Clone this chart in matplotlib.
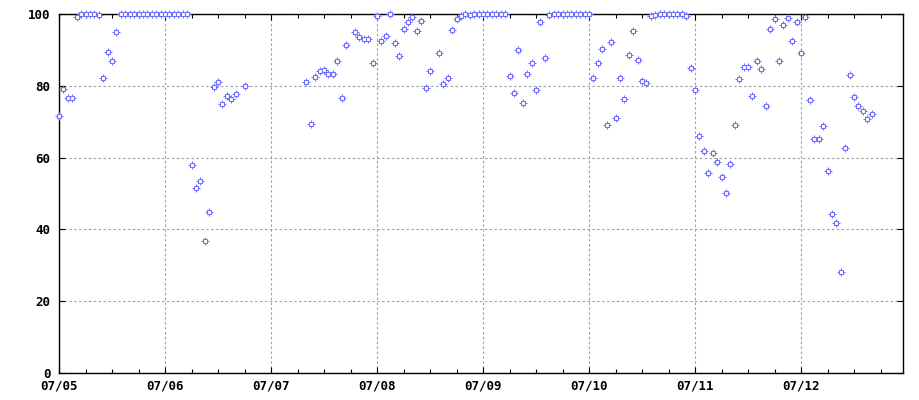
import numpy as np
import matplotlib
matplotlib.use('Agg')
import matplotlib.pyplot as plt
from matplotlib.ticker import MultipleLocator, FixedLocator

# hours since 07/05 00:00
hours = [0, 1, 2, 3, 4, 5, 6, 7, 8, 9, 10, 11, 12, 13,
         14, 15, 16, 17, 18, 19, 20, 21, 22, 23, 24, 25, 26, 27, 28, 29,
         30, 31, 32, 33, 34, 35, 36, 37, 38, 39, 40, 42,
         56, 57, 58, 59, 60, 61, 62, 63, 64, 65, 67, 68, 69, 70, 71,
         72, 73, 74, 75, 76, 77, 78, 79, 80, 81, 82, 83, 84, 86, 87, 88, 89, 90, 91,
         92, 93, 94, 95, 96, 97, 98, 99, 100, 101,
         102, 103, 104, 105, 106, 107, 108, 109, 110, 111,
         112, 113, 114, 115, 116, 117, 118, 119, 120,
         121, 122, 123, 124, 125, 126, 127, 128, 129, 130, 131, 132, 133,
         134, 135, 136, 137, 138, 139, 140, 141, 142, 143, 144,
         145, 146, 147, 148, 149, 150, 151, 152, 153, 154, 155, 156, 157, 158, 159,
         160, 161, 162, 163, 164, 165, 166, 167, 168, 169, 170, 171, 172, 173,
         174, 175, 176, 177, 178, 179, 180, 181, 182, 183, 184]
values = [71.5, 79.0, 76.5, 76.5, 99.1, 99.9, 100, 100, 100, 99.6, 82.3, 89.3, 86.8, 94.9,
          100, 100, 100, 100, 100, 100, 100, 100, 100, 100, 100, 100, 100, 100, 100, 100,
          57.9, 51.4, 53.4, 36.8, 44.8, 79.6, 81.0, 74.8, 77.1, 76.3, 77.6, 79.9,
          81.0, 69.3, 82.4, 84.0, 84.4, 83.2, 83.2, 86.9, 76.5, 91.5, 94.9, 93.5, 92.9, 92.9, 86.3,
          99.4, 92.4, 93.8, 99.9, 91.8, 88.2, 95.7, 97.7, 99.1, 95.2, 98.0, 79.3, 84.2, 89.0, 80.4, 82.1, 95.5, 98.5, 99.4,
          100, 99.6, 100, 100, 100, 100, 100, 100, 100, 100,
          82.6, 77.9, 89.9, 75.1, 83.2, 86.3, 78.7, 97.7, 87.7, 99.6,
          100, 100, 100, 100, 100, 100, 100, 100, 100,
          82.1, 86.3, 90.2, 69.0, 92.1, 70.9, 82.1, 76.2, 88.5, 95.2, 87.1, 81.3, 80.7,
          99.4, 99.6, 99.9, 100, 100, 100, 100, 100, 99.4, 84.9, 78.7,
          65.9, 61.8, 55.6, 61.2, 58.7, 54.5, 50.1, 58.1, 69.0, 81.8, 85.2, 85.2, 77.1, 86.8, 84.6,
          74.3, 95.7, 98.5, 86.8, 96.9, 98.8, 92.4, 97.7, 89.0, 99.1, 76.0, 65.1, 65.1, 68.7,
          56.2, 44.2, 41.7, 28.0, 62.6, 82.9, 76.8, 74.3, 72.9, 70.7, 72.1]
day_labels = ['07/05', '07/06', '07/07', '07/08', '07/09', '07/10', '07/11', '07/12']

x = np.array(hours) / 24.0
y = np.array(values)

fig = plt.figure(figsize=(9.2, 4.0), dpi=100)
ax = fig.add_axes([59 / 920, 27 / 400, 844 / 920, 359 / 400])

col = '#7070ff'
ax.plot(x, y, '+', ms=5.2, mec=col, mew=0.8, ls='none', zorder=3, clip_on=False)
ax.plot(x, y, 's', ms=3.0, mfc='white', mec=col, mew=0.8, ls='none', zorder=4, clip_on=False)

ax.set_xlim(0, 7.962)
ax.set_ylim(0, 100)
ax.xaxis.set_major_locator(FixedLocator(range(len(day_labels))))
ax.set_xticklabels(day_labels)
ax.xaxis.set_minor_locator(MultipleLocator(0.25))
ax.yaxis.set_major_locator(MultipleLocator(20))

font = {'family': 'DejaVu Sans Mono', 'weight': 'bold', 'size': 9}
for lab in ax.get_xticklabels() + ax.get_yticklabels():
    lab.set_fontproperties(font)

ax.tick_params(axis='both', which='both', direction='in', top=True, right=True,
               width=0.8, colors='black')
ax.tick_params(axis='x', which='major', length=4, pad=5)
ax.tick_params(axis='x', which='minor', length=3)
ax.tick_params(axis='y', which='major', length=4, pad=6)

for s in ax.spines.values():
    s.set_linewidth(1.0)
    s.set_color('black')

ax.grid(True, which='major', color='#a0a0a0', linestyle=(0, (2.2, 2.2)), linewidth=0.8)
ax.set_axisbelow(True)

fig.savefig('out.png', dpi=100)
